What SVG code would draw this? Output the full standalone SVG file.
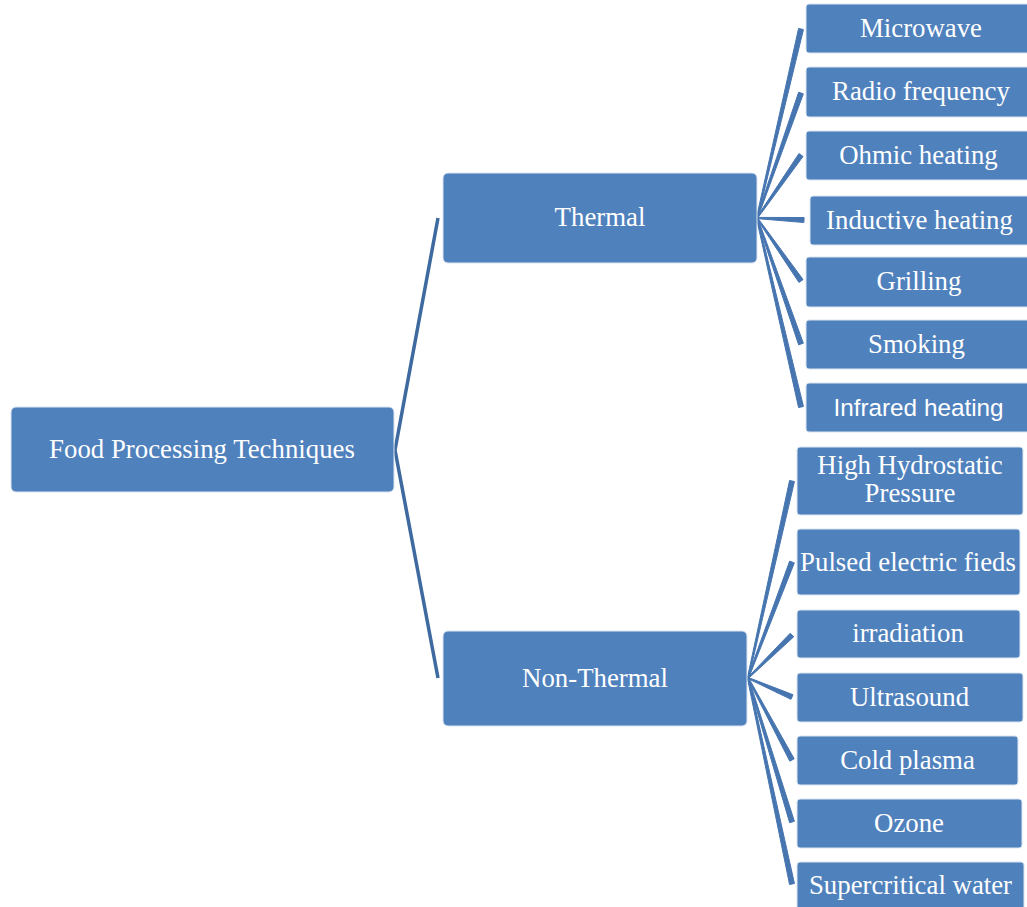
<svg xmlns="http://www.w3.org/2000/svg" width="1027" height="907" viewBox="0 0 1027 907">
<style>
.box{fill:#4f81bd;stroke:#dbe5f1;stroke-width:1}
.t{font-family:"Liberation Serif","Times New Roman",serif;font-size:26.8px;fill:#ffffff;text-anchor:middle}
.s{font-family:"Liberation Sans",Arial,sans-serif;font-size:24.3px;fill:#ffffff;text-anchor:middle}
.root{fill:none;stroke:#3e6aa0;stroke-width:3.5;stroke-linejoin:miter;stroke-miterlimit:20}
.c{fill:#4675b0;stroke:#4675b0;stroke-width:1;stroke-linejoin:round}
</style>
<rect width="1027" height="907" fill="#ffffff"/>
<g id="connectors">
<polyline class="root" points="438,218 395,450 438,678"/>
<polygon class="c" points="757.58,218.14 803.44,29.57 798.57,28.43 756.42,217.86"/>
<polygon class="c" points="757.57,218.20 803.36,93.83 798.64,92.17 756.43,217.80"/>
<polygon class="c" points="757.49,218.34 803.05,156.43 798.95,153.57 756.51,217.66"/>
<polygon class="c" points="756.97,218.60 803.89,222.50 804.11,217.50 757.03,217.40"/>
<polygon class="c" points="756.51,218.34 798.95,282.43 803.05,279.57 757.49,217.66"/>
<polygon class="c" points="756.43,218.20 798.64,344.82 803.36,343.18 757.57,217.80"/>
<polygon class="c" points="756.42,218.14 798.57,407.57 803.44,406.43 757.58,217.86"/>
<polygon class="c" points="748.59,678.13 794.44,481.55 789.56,480.46 747.41,677.87"/>
<polygon class="c" points="748.56,678.21 794.34,562.89 789.66,561.11 747.44,677.79"/>
<polygon class="c" points="748.42,678.43 793.75,636.79 790.25,633.21 747.58,677.57"/>
<polygon class="c" points="747.76,678.55 791.01,699.30 792.99,694.70 748.24,677.45"/>
<polygon class="c" points="747.47,678.28 789.80,761.18 794.20,758.82 748.53,677.72"/>
<polygon class="c" points="747.43,678.18 789.61,822.73 794.39,821.27 748.57,677.82"/>
<polygon class="c" points="747.41,678.13 789.56,884.52 794.45,883.48 748.59,677.87"/>
</g>
<g id="root">
<rect class="box" x="11" y="407" width="383" height="85" rx="5"/>
<text class="t" x="202" y="458">Food Processing Techniques</text>
</g>
<g id="thermal">
<rect class="box" x="443" y="173" width="314" height="90" rx="5"/>
<text class="t" x="600" y="226">Thermal</text>
</g>
<g id="nonthermal">
<rect class="box" x="443" y="631" width="304" height="95" rx="5"/>
<text class="t" x="595" y="687">Non-Thermal</text>
</g>
<g id="microwave">
<rect class="box" x="806" y="4" width="226" height="49" rx="3"/>
<text class="t" x="921" y="37">Microwave</text>
</g>
<g id="radio">
<rect class="box" x="806" y="67" width="226" height="50" rx="3"/>
<text class="t" x="921" y="100">Radio frequency</text>
</g>
<g id="ohmic">
<rect class="box" x="806" y="131" width="226" height="49" rx="3"/>
<text class="t" x="918.5" y="164">Ohmic heating</text>
</g>
<g id="inductive">
<rect class="box" x="810" y="196" width="222" height="49" rx="3"/>
<text class="t" x="919.5" y="229">Inductive heating</text>
</g>
<g id="grilling">
<rect class="box" x="806" y="257" width="226" height="50" rx="3"/>
<text class="t" x="919" y="290">Grilling</text>
</g>
<g id="smoking">
<rect class="box" x="806" y="320" width="226" height="49" rx="3"/>
<text class="t" x="916.5" y="353">Smoking</text>
</g>
<g id="infrared">
<rect class="box" x="806" y="383" width="226" height="49" rx="3"/>
<text class="s" x="918.5" y="416">Infrared heating</text>
</g>
<g id="hhp">
<rect class="box" x="797" y="447" width="226" height="68" rx="3"/>
<text class="t" x="910" y="474">High Hydrostatic</text>
<text class="t" x="910" y="502">Pressure</text>
</g>
<g id="pef">
<rect class="box" x="797" y="529" width="223" height="66" rx="3"/>
<text class="t" x="908" y="571">Pulsed electric fieds</text>
</g>
<g id="irradiation">
<rect class="box" x="797" y="610" width="223" height="48" rx="3"/>
<text class="t" x="908" y="642">irradiation</text>
</g>
<g id="ultrasound">
<rect class="box" x="797" y="673" width="226" height="49" rx="3"/>
<text class="t" x="909.5" y="706">Ultrasound</text>
</g>
<g id="coldplasma">
<rect class="box" x="797" y="736" width="221" height="49" rx="3"/>
<text class="t" x="907.5" y="769">Cold plasma</text>
</g>
<g id="ozone">
<rect class="box" x="797" y="799" width="225" height="49" rx="3"/>
<text class="t" x="909" y="832">Ozone</text>
</g>
<g id="supercritical">
<rect class="box" x="797" y="862" width="227" height="55" rx="3"/>
<text class="t" x="910.5" y="894">Supercritical water</text>
</g>
</svg>
